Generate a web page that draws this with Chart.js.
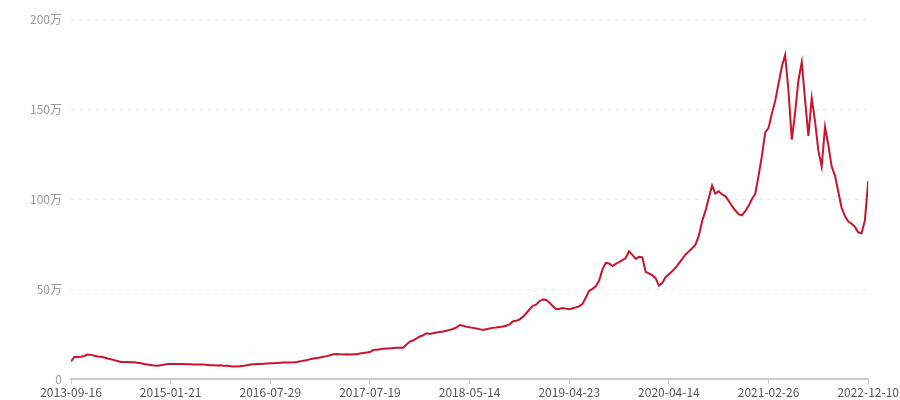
<!DOCTYPE html>
<html>
<head>
    <title>Line chart</title>
    <style>
        body { margin: 0; padding: 0; background: #fff; }
        #chartBox { width: 900px; height: 400px; }
    </style>
    <script src="https://cdn.jsdelivr.net/npm/chart.js"></script>
</head>
<body>

    <div id="chartBox">
        <canvas id="lineChart"></canvas>
    </div>

    <script>
        // tick labels on the x axis, one every 30 points
        const dateLabels = ['2013-09-16', '2015-01-21', '2016-07-29', '2017-07-19', '2018-05-14',
                            '2019-04-23', '2020-04-14', '2021-02-26', '2022-12-10'];
        const pointsPerLabel = 30;

        // y tick values (unit: 万)
        const yTicks = [0, 50, 100, 150, 200];

        // series values in 万
        const values = [
            9.8, 12.2, 12.2, 12.4, 12.8, 13.6, 13.4, 12.9, 12.5, 12.3,
            11.9, 11.4, 11.0, 10.5, 10.0, 9.5, 9.4, 9.4, 9.3, 9.3,
            9.0, 8.7, 8.3, 8.0, 7.8, 7.5, 7.3, 7.6, 7.9, 8.3,
            8.4, 8.3, 8.4, 8.3, 8.3, 8.2, 8.2, 8.1, 8.1, 8.0,
            8.0, 7.8, 7.6, 7.6, 7.5, 7.6, 7.4, 7.3, 7.1, 6.9,
            6.9, 7.1, 7.3, 7.6, 8.0, 8.2, 8.3, 8.4, 8.5, 8.6,
            8.7, 8.8, 8.9, 9.0, 9.1, 9.2, 9.2, 9.3, 9.5, 9.8,
            10.2, 10.5, 11.0, 11.4, 11.7, 12.0, 12.3, 12.7, 13.2, 13.7,
            13.9, 13.7, 13.6, 13.8, 13.6, 13.7, 13.8, 14.2, 14.5, 14.7,
            15.0, 16.1, 16.3, 16.5, 16.8, 16.9, 17.0, 17.2, 17.3, 17.4,
            17.4, 19.2, 20.8, 21.4, 22.5, 23.6, 24.3, 25.4, 25.0, 25.4,
            25.8, 26.1, 26.4, 26.8, 27.3, 27.8, 28.6, 30.0, 29.6, 29.1,
            28.7, 28.4, 28.1, 27.7, 27.2, 27.6, 28.0, 28.4, 28.6, 28.9,
            29.2, 29.6, 30.3, 32.0, 32.4, 33.0, 34.5, 36.4, 38.6, 40.6,
            41.3, 43.2, 44.2, 44.0, 42.5, 40.6, 38.9, 38.9, 39.4, 39.1,
            38.7, 39.3, 39.8, 40.4, 41.8, 45.3, 49.0, 50.1, 51.5, 54.7,
            60.9, 64.5, 64.2, 62.8, 63.9, 65.0, 66.0, 67.2, 71.0, 69.0,
            66.8, 67.9, 67.6, 59.6, 58.6, 57.7, 56.0, 51.8, 53.3, 56.6,
            58.2, 59.8, 61.8, 64.2, 66.6, 69.2, 70.9, 72.6, 74.6, 79.5,
            87.6, 93.4, 100.5, 107.5, 103.0, 104.3, 102.5, 101.6, 99.0, 96.0,
            93.6, 91.6, 90.9, 93.2, 96.2, 100.0, 102.8, 113.0, 124.0, 137.0,
            139.5, 147.5, 154.5, 164.0, 173.5, 180.0, 160.0, 133.0, 148.0, 166.0,
            176.0, 155.0, 135.0, 156.0, 143.0, 127.0, 118.0, 140.0, 130.0, 118.0,
            113.0, 104.0, 95.0, 90.5, 87.5, 86.3, 84.5, 81.5, 81.0, 88.0,
            110.0
        ];

        const fontFamily = '"Microsoft YaHei", "Noto Sans CJK SC", sans-serif';

        const ctx = document.getElementById('lineChart').getContext('2d');
        new Chart(ctx, {
            type: 'line',
            data: {
                datasets: [{
                    data: values.map((v, i) => ({ x: i, y: v })),
                    borderColor: '#c8152d',
                    borderWidth: 2,
                    pointRadius: 0,
                    tension: 0,
                    fill: false
                }]
            },
            options: {
                responsive: true,
                maintainAspectRatio: false,
                animation: false,
                layout: { padding: { top: 19, right: 31, left: 0, bottom: 0 } },
                plugins: {
                    legend: { display: false },
                    tooltip: { enabled: false }
                },
                scales: {
                    x: {
                        type: 'linear',
                        min: 0,
                        max: (dateLabels.length - 1) * pointsPerLabel,
                        afterFit: s => { s.height = 21; },
                        grid: {
                            drawOnChartArea: false,
                            drawTicks: true,
                            tickLength: 5,
                            color: '#cccccc'
                        },
                        border: { display: true, color: '#cccccc', width: 2 },
                        ticks: {
                            stepSize: pointsPerLabel,
                            autoSkip: false,
                            maxRotation: 0,
                            padding: 1,
                            color: '#555555',
                            font: { family: fontFamily, size: 12 },
                            callback: v => dateLabels[Math.round(v / pointsPerLabel)]
                        }
                    },
                    y: {
                        min: yTicks[0],
                        max: yTicks[yTicks.length - 1],
                        afterFit: s => { s.width = 71; },
                        afterBuildTicks: s => { s.ticks = yTicks.map(v => ({ value: v })); },
                        grid: {
                            drawTicks: false,
                            color: c => c.tick.value === 0 ? 'rgba(0,0,0,0)' : '#e6e6e6',
                            lineWidth: 1
                        },
                        border: { display: false, dash: [4, 4] },
                        ticks: {
                            padding: 9,
                            color: '#9a9a9a',
                            font: { family: fontFamily, size: 12 },
                            callback: v => v === 0 ? '0' : v + '万'
                        }
                    }
                }
            }
        });
    </script>

</body>
</html>
